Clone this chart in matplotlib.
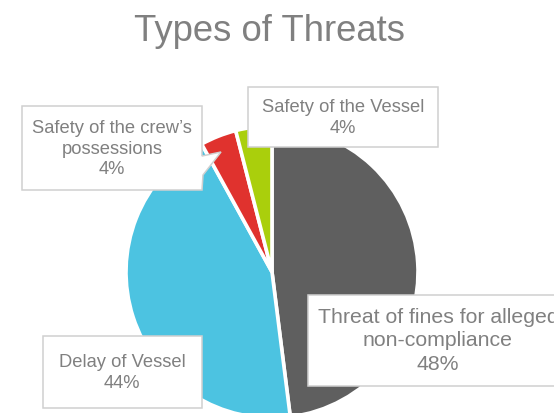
import matplotlib
matplotlib.use("Agg")
import matplotlib.pyplot as plt
from matplotlib.patches import Rectangle, Polygon

plt.rcParams['font.family'] = ['Liberation Sans', 'DejaVu Sans']

title = "Types of Threats"
categories = ["Threat of fines for alleged\nnon-compliance", "Delay of Vessel",
              "Safety of the crew\u2019s\npossessions", "Safety of the Vessel"]
values = [48, 44, 4, 4]
colors = ["#5F5F5F", "#4CC3E1", "#E0322E", "#AACF0C"]

W, H = 554, 413
fig = plt.figure(figsize=(W / 100, H / 100), dpi=100)
ax = fig.add_axes([0, 0, 1, 1])

cx, cy, r = 272, H - 272, 146
ax.pie(values, colors=colors, startangle=90, counterclock=False,
       center=(cx, cy), radius=r,
       wedgeprops=dict(edgecolor="white", linewidth=2.6))
ax.set_xlim(0, W)
ax.set_ylim(0, H)
ax.set_aspect('auto')
ax.axis('off')

txt_col = "#808080"
edge_col = "#D0D0D0"

def Y(y):
    return H - y

ax.text(270, Y(41), title, ha='center', va='baseline', fontsize=26.3, color=txt_col)

def box(x0, y0, x1, y1):
    ax.add_patch(Rectangle((x0, Y(y1)), x1 - x0, y1 - y0, facecolor='white',
                           edgecolor=edge_col, linewidth=1.1, zorder=5))

pct = [f"{v}%" for v in values]
LS = 1.3

# Fines
box(308, 295, 570, 386)
ax.text(438, Y(341), f"{categories[0]}\n{pct[0]}", ha='center', va='center',
        fontsize=15.3, color=txt_col, linespacing=LS, zorder=6)
# Delay
box(43, 336, 202, 408)
ax.text(122, Y(373), f"{categories[1]}\n{pct[1]}", ha='center', va='center',
        fontsize=13.2, color=txt_col, linespacing=LS, zorder=6)
# Crew (callout)
pts = [(22, 106), (202, 106), (202, 156), (221, 152), (203, 175), (202, 190), (22, 190)]
ax.add_patch(Polygon([(x, Y(y)) for x, y in pts], closed=True, facecolor='white',
                     edgecolor=edge_col, linewidth=1.1, zorder=5))
ax.text(112, Y(149), f"{categories[2]}\n{pct[2]}", ha='center', va='center',
        fontsize=13.2, color=txt_col, linespacing=LS, zorder=6)
# Vessel
box(248, 87, 438, 147)
ax.text(343, Y(118), f"{categories[3]}\n{pct[3]}", ha='center', va='center',
        fontsize=13.2, color=txt_col, linespacing=LS, zorder=6)

fig.savefig("out.png", dpi=100)
